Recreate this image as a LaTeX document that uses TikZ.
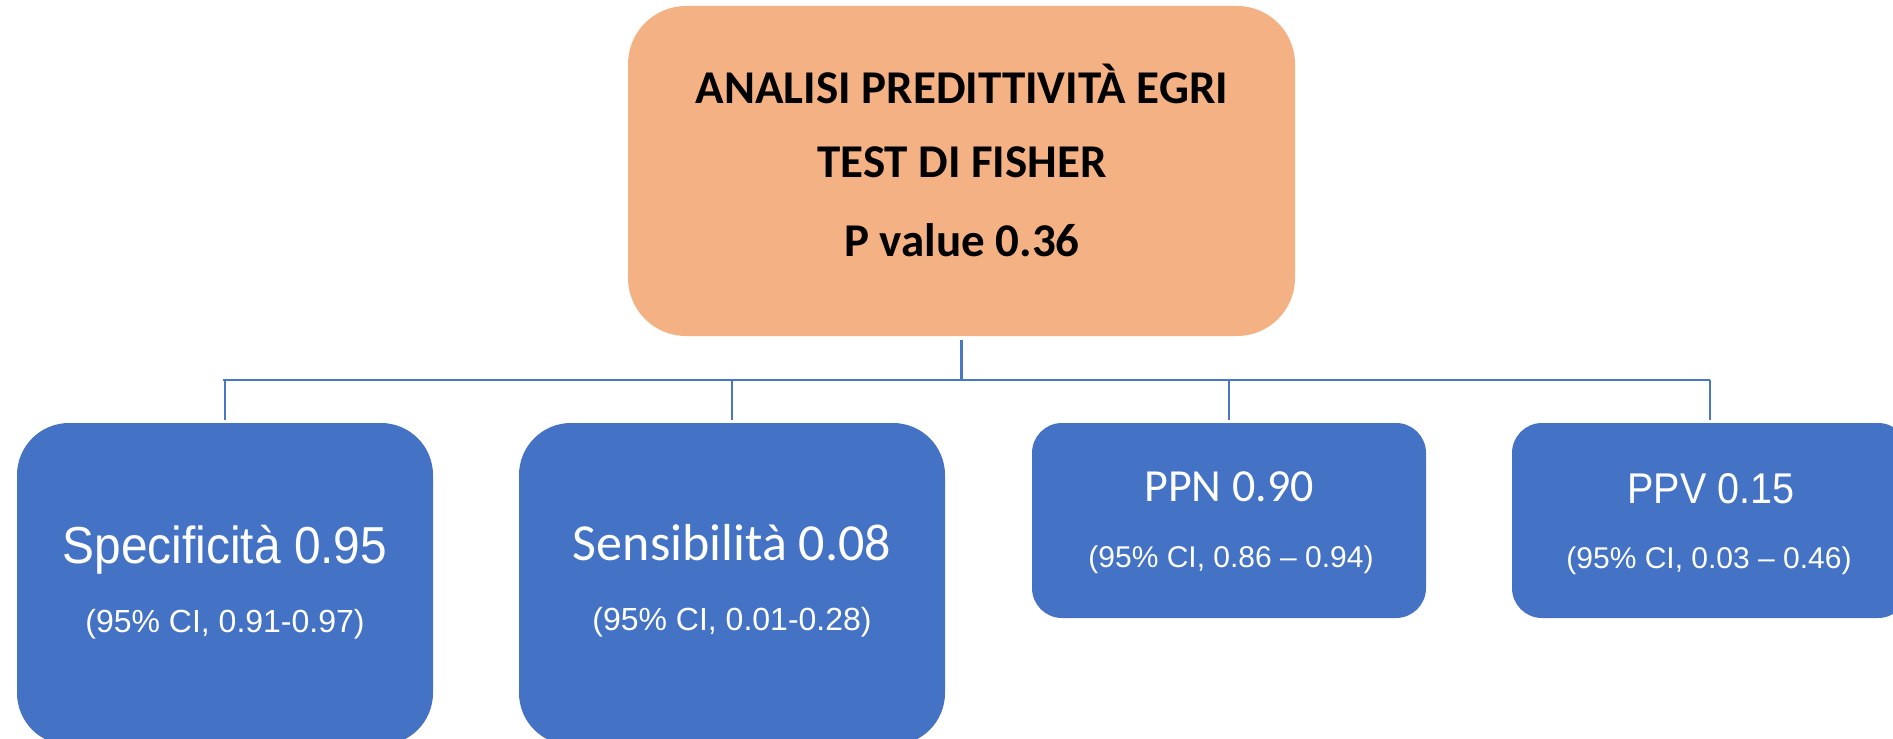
\documentclass[tikz,border=0pt]{standalone}
\usepackage{fontspec}
\newfontfamily\carlito{Carlito}
\newfontfamily\libsans{Liberation Sans}
\newfontfamily\libnarrow[FakeStretch=0.92]{Liberation Sans}
\definecolor{orangebox}{HTML}{F4B183}
\definecolor{bluebox}{HTML}{4472C4}
\definecolor{linecol}{HTML}{4A76C6}
\tikzset{
  boxbase/.style={draw=none, inner sep=0pt, rectangle},
  topbox/.style={boxbase, fill=orangebox, rounded corners=29pt},
  bigblue/.style={boxbase, fill=bluebox, rounded corners=26pt},
  smallblue/.style={boxbase, fill=bluebox, rounded corners=15pt},
  conn/.style={draw=linecol, line width=1.4pt},
  txt/.style={anchor=base, inner sep=0pt, outer sep=0pt},
  toptxt/.style={txt, text=black, font=\carlito\bfseries\fontsize{23.5}{28}\selectfont},
  whitetxt/.style={txt, text=white},
}
\begin{document}
\begin{tikzpicture}[x=0.5pt, y=-0.5pt]
\useasboundingbox (0,0) rectangle (1893,738);
% boxes
\node[topbox, minimum width=333.5pt, minimum height=165pt] (top) at (961.5,171) {};
\node[bigblue, minimum width=208pt, minimum height=161pt] (b1) at (225,584) {};
\node[bigblue, minimum width=213pt, minimum height=161pt] (b2) at (732,584) {};
\node[smallblue, minimum width=197pt, minimum height=97.5pt] (b3) at (1229,520.5) {};
\node[smallblue, minimum width=198pt, minimum height=97.5pt] (b4) at (1710,520.5) {};
% top text
\node[toptxt] (t1) at (962,104) {ANALISI PREDITTIVITÀ EGRI};
\node[toptxt] (t2) at (962,177) {TEST DI FISHER};
\node[toptxt] (t3) at (962,256) {P value 0.36};
% blue texts
\node[whitetxt, font=\libnarrow\fontsize{26}{30}\selectfont] (s1) at (225,563) {Specificità 0.95};
\node[whitetxt, font=\libsans\fontsize{16}{20}\selectfont] (s2) at (225,632) {(95\% CI, 0.91-0.97)};
\node[whitetxt, font=\carlito\fontsize{26}{30}\selectfont] (e1) at (732,560) {Sensibilità 0.08};
\node[whitetxt, font=\libsans\fontsize{16}{20}\selectfont] (e2) at (732,630) {(95\% CI, 0.01-0.28)};
\node[whitetxt, font=\carlito\fontsize{23}{27}\selectfont] (n1) at (1229,501) {PPN 0.90};
\node[whitetxt, font=\libsans\fontsize{15}{19}\selectfont] (n2) at (1231,567) {(95\% CI, 0.86 – 0.94)};
\node[whitetxt, font=\libnarrow\fontsize{21.5}{25}\selectfont] (v1) at (1711,503) {PPV 0.15};
\node[whitetxt, font=\libsans\fontsize{15}{19}\selectfont] (v2) at (1709,568) {(95\% CI, 0.03 – 0.46)};
% connectors
\coordinate (busL) at (223,380);
\coordinate (busR) at (1710,380);
\draw[conn] ([yshift=-2pt]top.south) -- (top.south |- busL);
\draw[conn] (busL) -- (busR);
\draw[conn] (b1.north |- busL) -- ([yshift=1.5pt]b1.north);
\draw[conn] (b2.north |- busL) -- ([yshift=1.5pt]b2.north);
\draw[conn] (b3.north |- busL) -- ([yshift=1.5pt]b3.north);
\draw[conn] (b4.north |- busL) -- ([yshift=1.5pt]b4.north);
\end{tikzpicture}
\end{document}
